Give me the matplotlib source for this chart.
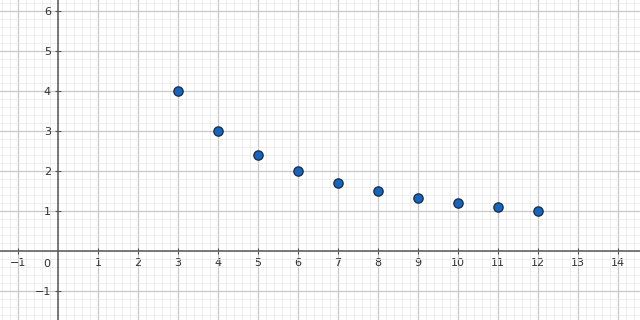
import matplotlib
matplotlib.use("Agg")
import matplotlib.pyplot as plt
from matplotlib.ticker import MultipleLocator

x_vals = [3, 4, 5, 6, 7, 8, 9, 10, 11, 12]
y_vals = [4, 3, 2.4, 2, 1.71, 1.5, 1.33, 1.2, 1.09, 1]
x_ticks = [-1, 1, 2, 3, 4, 5, 6, 7, 8, 9, 10, 11, 12, 13, 14]
y_ticks = [-1, 1, 2, 3, 4, 5, 6]

fig = plt.figure(figsize=(6.4, 3.2), dpi=100)
ax = fig.add_axes([0, 0, 1, 1])
ax.set_xlim(-1.45, 14.55)
ax.set_ylim(-1.725, 6.275)

ax.xaxis.set_minor_locator(MultipleLocator(0.2))
ax.yaxis.set_minor_locator(MultipleLocator(0.2))
ax.set_xticks(x_ticks)
ax.set_yticks(y_ticks)
ax.grid(which="minor", color="#ebebeb", linewidth=0.6, zorder=0)
ax.grid(which="major", color="#c8c8c8", linewidth=0.9, zorder=0)
ax.set_axisbelow(True)

for s in ["top", "right"]:
    ax.spines[s].set_visible(False)
ax.spines["left"].set_position(("data", 0))
ax.spines["bottom"].set_position(("data", 0))
ax.spines["left"].set_color("#555555")
ax.spines["bottom"].set_color("#555555")
ax.spines["left"].set_linewidth(1.1)
ax.spines["bottom"].set_linewidth(1.1)

ax.tick_params(which="major", direction="inout", length=4, width=0.8, color="#555555",
               labelsize=8, labelcolor="#333333", pad=3)
ax.tick_params(which="minor", length=0)
ax.set_xticklabels([f"\u2212{abs(v)}" if v < 0 else str(v) for v in x_ticks])
ax.set_yticklabels([f"\u2212{abs(v)}" if v < 0 else str(v) for v in y_ticks])
ax.text(-0.2, -0.2, "0", ha="right", va="top", fontsize=8, color="#333333")

ax.scatter(x_vals, y_vals, s=45, color="#1565c0", edgecolor="#1a2a40",
           linewidth=0.9, zorder=5, clip_on=False)

fig.savefig("out.png", dpi=100)
